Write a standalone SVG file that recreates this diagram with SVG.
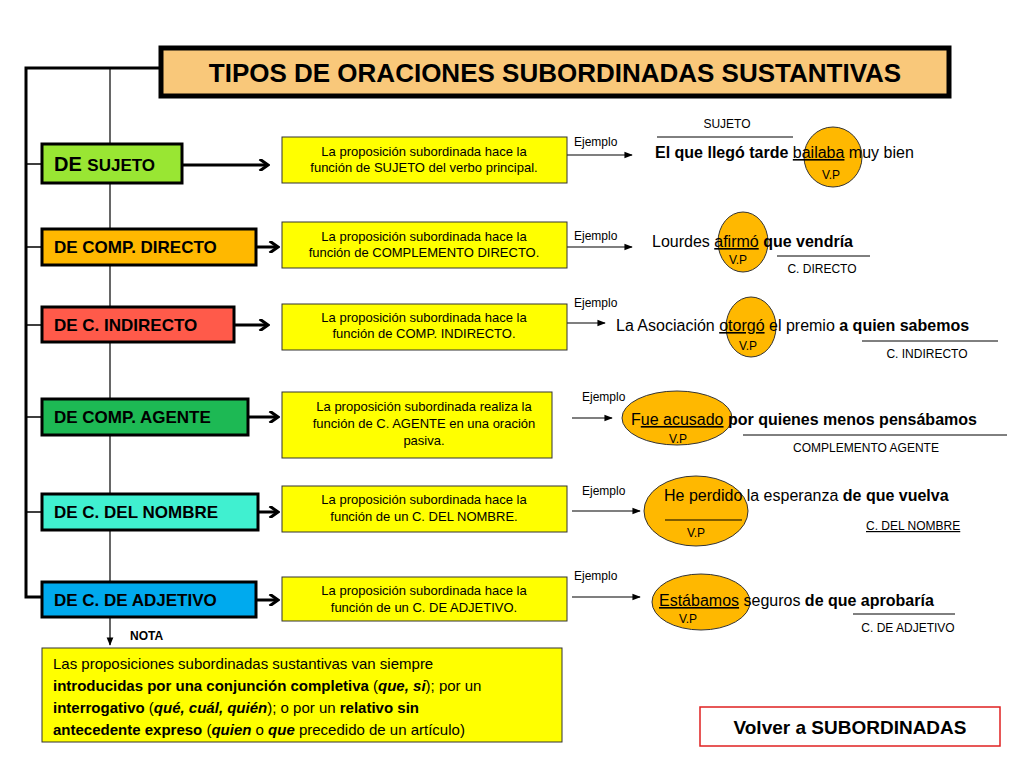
<svg xmlns="http://www.w3.org/2000/svg" width="1024" height="768" viewBox="0 0 1024 768">
<defs>
<style>
text{font-family:"Liberation Sans",Arial,sans-serif;fill:#000}
.cat{stroke:#000;stroke-width:3}
.cat-t{font-size:17px;font-weight:bold}
.yb{fill:#ffff00;stroke:#333;stroke-width:1}
.yt{font-size:13px;text-anchor:middle}
.ej{font-size:12px}
.ell{fill:#ffb800;stroke:#333;stroke-width:1}
.s{font-size:16px}
.sm{font-size:12px}
.ln{stroke:#000;stroke-width:1}
</style>
<marker id="ah" viewBox="0 0 10 10" refX="9" refY="5" markerWidth="7" markerHeight="7" orient="auto"><path d="M0,1 L10,5 L0,9 Z" fill="#000"/></marker>
<marker id="chev" viewBox="0 0 10 10" refX="8" refY="5" markerWidth="4" markerHeight="4" orient="auto"><path d="M1,0 L8,5 L1,10" fill="none" stroke="#000" stroke-width="2.5"/></marker>
</defs>
<rect width="1024" height="768" fill="#fff"/>
<g id="connectors" fill="none">
<path d="M160,68 H26 V597 H42" stroke="#000" stroke-width="3"/>
<path d="M110,68 V645" stroke="#000" stroke-width="1.2" marker-end="url(#ah)"/>
<path d="M26,164 H42 M26,247 H42 M26,325 H42 M26,417 H42 M26,512 H42" stroke="#000" stroke-width="1.5"/>
<g stroke="#000" stroke-width="3" marker-end="url(#chev)">
<path d="M182,165 H268"/><path d="M256,247 H278"/><path d="M234,325 H268"/>
<path d="M248,417 H278"/><path d="M258,512 H278"/><path d="M256,600 H278"/>
</g>
<g stroke="#000" stroke-width="1.2" marker-end="url(#ah)">
<path d="M567,155 H632"/><path d="M567,247 H632"/><path d="M567,323 H605"/>
<path d="M572,418 H612"/><path d="M572,511 H640"/><path d="M572,597 H640"/>
</g>
</g>
<g id="title"><rect x="161" y="48" width="788" height="48" fill="#f9c87a" stroke="#000" stroke-width="5"/>
<text x="555" y="82" text-anchor="middle" font-size="26" font-weight="bold">TIPOS DE ORACIONES SUBORDINADAS SUSTANTIVAS</text></g>
<g id="n-sujeto"><rect class="cat" x="42" y="144" width="140" height="39" fill="#99e633"/><text x="54" y="171" font-size="20" font-weight="bold">DE <tspan font-size="17">SUJETO</tspan></text></g>
<g id="n-directo"><rect class="cat" x="42" y="229" width="214" height="36" fill="#ffb800"/><text class="cat-t" x="54" y="253">DE COMP. DIRECTO</text></g>
<g id="n-indirecto"><rect class="cat" x="42" y="307" width="192" height="35" fill="#ff5a4a"/><text class="cat-t" x="54" y="331">DE C. INDIRECTO</text></g>
<g id="n-agente"><rect class="cat" x="42" y="399" width="206" height="36" fill="#1db954"/><text class="cat-t" x="54" y="423">DE COMP. AGENTE</text></g>
<g id="n-nombre"><rect class="cat" x="42" y="494" width="216" height="36" fill="#40f0d0"/><text class="cat-t" x="54" y="518">DE C. DEL NOMBRE</text></g>
<g id="n-adjetivo"><rect class="cat" x="42" y="582" width="214" height="35" fill="#00aaee"/><text class="cat-t" x="54" y="606">DE C. DE ADJETIVO</text></g>
<g id="d-sujeto"><rect class="yb" x="282" y="137" width="285" height="46"/><text class="yt" x="424" y="156">La proposición subordinada hace la</text><text class="yt" x="424" y="172">función de SUJETO del verbo principal.</text></g>
<g id="d-directo"><rect class="yb" x="282" y="222" width="285" height="46"/><text class="yt" x="424" y="241">La proposición subordinada hace la</text><text class="yt" x="424" y="257">función de COMPLEMENTO DIRECTO.</text></g>
<g id="d-indirecto"><rect class="yb" x="282" y="304" width="285" height="46"/><text class="yt" x="424" y="322">La proposición subordinada hace la</text><text class="yt" x="424" y="338">función de COMP. INDIRECTO.</text></g>
<g id="d-agente"><rect class="yb" x="282" y="392" width="270" height="66"/><text class="yt" x="424" y="411">La proposición subordinada realiza la</text><text class="yt" x="424" y="428">función de C. AGENTE en una oración</text><text class="yt" x="424" y="445">pasiva.</text></g>
<g id="d-nombre"><rect class="yb" x="282" y="486" width="285" height="46"/><text class="yt" x="424" y="504">La proposición subordinada hace la</text><text class="yt" x="424" y="521">función de un C. DEL NOMBRE.</text></g>
<g id="d-adjetivo"><rect class="yb" x="282" y="577" width="285" height="44"/><text class="yt" x="424" y="595">La proposición subordinada hace la</text><text class="yt" x="424" y="612">función de un C. DE ADJETIVO.</text></g>
<g id="ex-sujeto">
<text class="ej" x="574" y="146">Ejemplo</text>
<text class="sm" x="727" y="128" text-anchor="middle">SUJETO</text><line class="ln" x1="657" y1="137" x2="793" y2="137"/>
<ellipse class="ell" cx="833" cy="157" rx="29" ry="30"/>
<text class="s" x="655" y="158"><tspan font-weight="bold">El que llegó tarde</tspan> <tspan text-decoration="underline">bailaba</tspan>  muy bien</text>
<text class="sm" x="831" y="179" text-anchor="middle">V.P</text></g>
<g id="ex-directo">
<text class="ej" x="574" y="240">Ejemplo</text>
<ellipse class="ell" cx="743" cy="242" rx="25" ry="30"/>
<text class="s" x="652" y="247">Lourdes <tspan text-decoration="underline">afirmó</tspan>  <tspan font-weight="bold">que vendría</tspan></text>
<line class="ln" x1="777" y1="256" x2="870" y2="256"/>
<text class="sm" x="738" y="264" text-anchor="middle">V.P</text>
<text class="sm" x="822" y="273" text-anchor="middle">C. DIRECTO</text></g>
<g id="ex-indirecto">
<text class="ej" x="574" y="307">Ejemplo</text>
<ellipse class="ell" cx="751" cy="327" rx="25" ry="30"/>
<text class="s" x="616" y="331">La Asociación <tspan text-decoration="underline">otorgó</tspan> el premio  <tspan font-weight="bold">a quien sabemos</tspan></text>
<line class="ln" x1="862" y1="341" x2="998" y2="341"/>
<text class="sm" x="748" y="350" text-anchor="middle">V.P</text>
<text class="sm" x="927" y="358" text-anchor="middle">C. INDIRECTO</text></g>
<g id="ex-agente">
<text class="ej" x="582" y="401">Ejemplo</text>
<ellipse class="ell" cx="677" cy="418" rx="55" ry="27"/>
<text class="s" x="631" y="425">F<tspan text-decoration="underline">ue acusado</tspan> <tspan font-weight="bold">por quienes menos pensábamos</tspan></text>
<line class="ln" x1="743" y1="435" x2="1007" y2="435"/>
<text class="sm" x="678" y="443" text-anchor="middle">V.P</text>
<text class="sm" x="866" y="452" text-anchor="middle">COMPLEMENTO AGENTE</text></g>
<g id="ex-nombre">
<text class="ej" x="582" y="495">Ejemplo</text>
<ellipse class="ell" cx="696" cy="511" rx="52" ry="35"/>
<text class="s" x="664" y="501">He perdido la esperanza <tspan font-weight="bold">de que vuelva</tspan></text>
<line class="ln" x1="665" y1="520" x2="742" y2="520"/>
<text class="sm" x="696" y="537" text-anchor="middle">V.P</text>
<text class="sm" x="866" y="530" text-decoration="underline">C. DEL NOMBRE</text></g>
<g id="ex-adjetivo">
<text class="ej" x="574" y="580">Ejemplo</text>
<ellipse class="ell" cx="701" cy="602" rx="49" ry="28"/>
<text class="s" x="659" y="606"><tspan text-decoration="underline">Estábamos</tspan> seguros <tspan font-weight="bold">de que aprobaría</tspan></text>
<line class="ln" x1="853" y1="614" x2="955" y2="614"/>
<text class="sm" x="688" y="623" text-anchor="middle">V.P</text>
<text class="sm" x="908" y="632" text-anchor="middle">C. DE ADJETIVO</text></g>
<g id="nota">
<text x="130" y="640" font-size="12" font-weight="bold">NOTA</text>
<rect class="yb" x="42" y="648" width="520" height="94"/>
<text font-size="15" x="53" y="669">Las proposiciones subordinadas sustantivas van siempre</text>
<text font-size="15" x="53" y="691"><tspan font-weight="bold">introducidas por una conjunción completiva</tspan> (<tspan font-weight="bold" font-style="italic">que, si</tspan>); por un</text>
<text font-size="15" x="53" y="713"><tspan font-weight="bold">interrogativo</tspan> (<tspan font-weight="bold" font-style="italic">qué, cuál, quién</tspan>); o por un <tspan font-weight="bold">relativo sin</tspan></text>
<text font-size="15" x="53" y="735"><tspan font-weight="bold">antecedente expreso</tspan> (<tspan font-weight="bold" font-style="italic">quien</tspan> o <tspan font-weight="bold" font-style="italic">que</tspan> precedido de un artículo)</text>
</g>
<g id="volver"><rect x="700" y="707" width="300" height="39" fill="#fff" stroke="#e02020" stroke-width="1.5"/>
<text x="850" y="734" text-anchor="middle" font-size="19" font-weight="bold">Volver a SUBORDINADAS</text></g>
</svg>
